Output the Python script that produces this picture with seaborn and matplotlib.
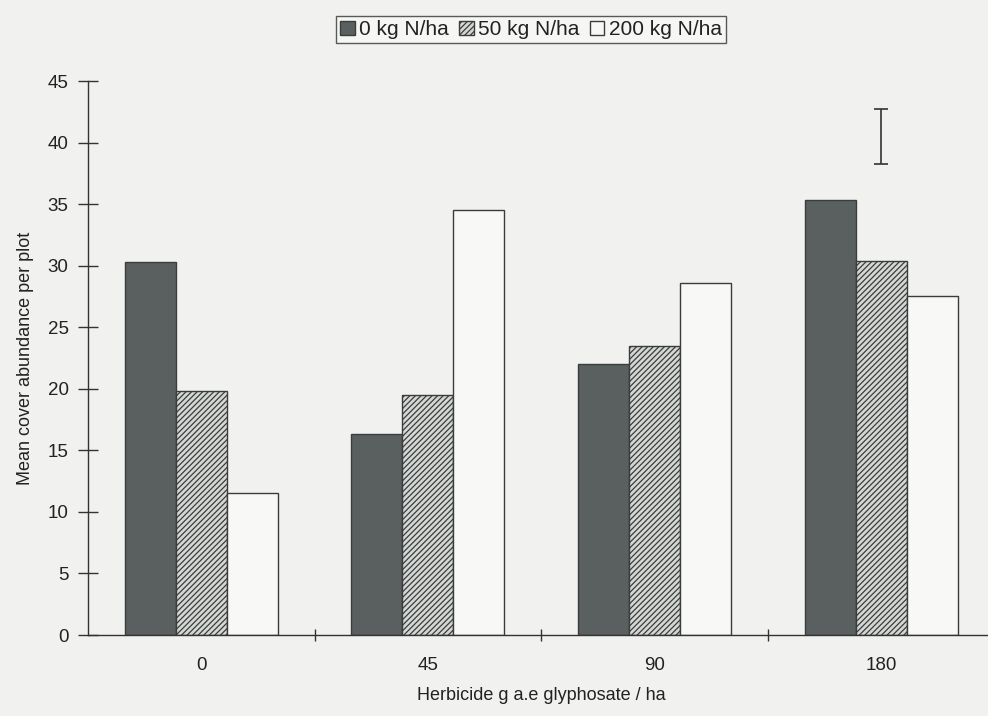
import numpy as np
import pandas as pd
import matplotlib.pyplot as plt
import seaborn as sns
from matplotlib.patches import Patch

herbicide = ['0', '45', '90', '180']
nitrogen = ['0 kg N/ha', '50 kg N/ha', '200 kg N/ha']
n0 = [30.3, 16.3, 22.0, 35.3]
n50 = [19.8, 19.5, 23.5, 30.4]
n200 = [11.5, 34.5, 28.6, 27.5]
# LSD bar shown over the 180 group
lsd_x = 3
lsd_mid = 40.5
lsd_half = 2.2

df = pd.DataFrame({
    'herbicide': herbicide * 3,
    'nitrogen': np.repeat(nitrogen, 4),
    'cover': n0 + n50 + n200,
})

sns.set_style('ticks')
plt.rcParams['font.family'] = ['Liberation Sans', 'DejaVu Sans']
plt.rcParams['hatch.linewidth'] = 0.9
plt.rcParams['text.color'] = '#222222'
plt.rcParams['axes.labelcolor'] = '#222222'
plt.rcParams['xtick.labelcolor'] = '#222222'
plt.rcParams['ytick.labelcolor'] = '#222222'

bg = '#f1f1ef'
fig = plt.figure(figsize=(9.88, 7.16), dpi=100, facecolor=bg)
ax = fig.add_axes([0.0891, 0.1131, 0.9175, 0.7737])
ax.set_facecolor(bg)

faces = ['#5a5f5f', '#d5d7d5', '#f8f8f6']
hatches = ['', '//////', '']
sns.barplot(data=df, x='herbicide', y='cover', hue='nitrogen', order=herbicide,
            hue_order=nitrogen, palette=faces, width=0.675, gap=0,
            edgecolor='#3a3d3d', linewidth=1.0, saturation=1, legend=False, ax=ax)
for cont, h in zip(ax.containers, hatches):
    for bar in cont:
        bar.set_hatch(h)

ax.errorbar([lsd_x], [lsd_mid], yerr=[lsd_half], fmt='none', ecolor='#333333',
            elinewidth=1.2, capsize=5, capthick=1.2)

ax.set_xlim(-0.5, 3.5)
ax.set_ylim(0, 45)
ax.set_yticks(range(0, 46, 5))
ax.set_xticks([0.5, 1.5, 2.5], minor=True)
ax.tick_params(axis='x', which='major', length=0, pad=16, labelsize=13.5)
ax.tick_params(axis='x', which='minor', direction='inout', length=9, width=1, color='#333')
ax.tick_params(axis='y', direction='inout', length=14, width=1, color='#333', labelsize=13.5, pad=7)
for s in ['top', 'right']:
    ax.spines[s].set_visible(False)
for s in ['left', 'bottom']:
    ax.spines[s].set_color('#333333')
    ax.spines[s].set_linewidth(1.0)

ax.set_xlabel('Herbicide g a.e glyphosate / ha', fontsize=13, labelpad=9)
ax.set_ylabel('Mean cover abundance per plot', fontsize=13, labelpad=10)

handles = [Patch(facecolor=f, edgecolor='#3a3d3d', hatch=h) for f, h in zip(faces, hatches)]
leg = fig.legend(handles, nitrogen, loc='center', bbox_to_anchor=(0.5375, 0.9585), ncol=3,
                 fontsize=15, frameon=True, fancybox=False, handlelength=0.7,
                 handleheight=0.7, handletextpad=0.2, columnspacing=0.5,
                 borderpad=0.2, borderaxespad=0)
leg.get_frame().set_edgecolor('#333333')
leg.get_frame().set_facecolor('#f8f8f6')
leg.get_frame().set_linewidth(1.0)

fig.savefig('out.png', dpi=100, facecolor=bg)
